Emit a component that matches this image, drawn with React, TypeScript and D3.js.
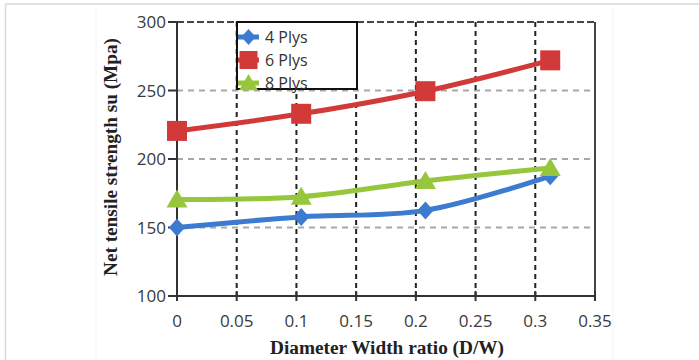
import React from 'react';
import * as d3 from 'd3';

// chart values
const ratios = [0, 0.104, 0.208, 0.3125];
const plys4 = [150, 157.7, 162.5, 187.5];
const plys6 = [220.5, 233, 249.5, 272];
const plys8 = [170.5, 172.5, 184, 193.5];
const seriesNames = ['4 Plys', '6 Plys', '8 Plys'];
const xTicks = [0, 0.05, 0.1, 0.15, 0.2, 0.25, 0.3, 0.35];
const yTicks = [100, 150, 200, 250, 300];

const W = 699;
const H = 360;
const colors = ['#3d7bd0', '#d23a3a', '#96c63c'];

const x = d3.scaleLinear().domain([0, 0.35]).range([177, 595]);
const y = d3.scaleLinear().domain([100, 300]).range([296, 22]);

const line = d3
  .line<[number, number]>()
  .x(d => x(d[0]))
  .y(d => y(d[1]))
  .curve(d3.curveCatmullRom.alpha(0.5));

// marker shapes, centred on cx,cy
const marker = (i: number, cx: number, cy: number, s: number) => {
  if (i === 0) {
    const h = s * 0.5;
    return <path d={`M${cx},${cy - h}L${cx + h * 0.9},${cy}L${cx},${cy + h}L${cx - h * 0.9},${cy}Z`} fill={colors[0]} />;
  }
  if (i === 1) {
    return <rect x={cx - s / 2} y={cy - s / 2} width={s} height={s} fill={colors[1]} />;
  }
  const h = s * 0.5;
  return <path d={`M${cx},${cy - h}L${cx + h * 1.05},${cy + h * 0.8}L${cx - h * 1.05},${cy + h * 0.8}Z`} fill={colors[2]} />;
};

const App = () => {
  const all = [plys4, plys6, plys8];
  const sizes = [18, 20, 20];
  const tickFont = "'Open Sans', sans-serif";
  return (
    <svg width={W} height={H} style={{ position: 'absolute', left: 0, top: 0, background: '#fff' }}>
      {/* page frame */}
      <line x1={5.5} x2={W} y1={4} y2={4} stroke="#d9d9d9" strokeWidth={1.5} />
      <line x1={5.5} x2={5.5} y1={4} y2={H} stroke="#d9d9d9" strokeWidth={1.5} />
      <line x1={96} x2={96} y1={8} y2={H} stroke="#f3f3f3" />
      <line x1={613} x2={613} y1={8} y2={H} stroke="#f3f3f3" />

      {/* horizontal grid */}
      {yTicks.slice(1, -1).map(t => (
        <line key={'h' + t} x1={x(0)} x2={x(0.35)} y1={y(t)} y2={y(t)} stroke="#a8a8a8" strokeWidth={2} strokeDasharray="6,5" />
      ))}
      {/* vertical grid */}
      {xTicks.slice(1, -1).map(t => (
        <line key={'v' + t} x1={x(t)} x2={x(t)} y1={y(300)} y2={y(100)} stroke="#222" strokeWidth={2} strokeDasharray="5,4" />
      ))}

      {/* frame of the plot */}
      <line x1={x(0)} x2={x(0.35)} y1={y(300)} y2={y(300)} stroke="#444" strokeWidth={2} strokeDasharray="7,3" />
      <line x1={x(0.35)} x2={x(0.35)} y1={y(300)} y2={y(100)} stroke="#444" strokeWidth={2} />
      <line x1={x(0)} x2={x(0)} y1={y(300)} y2={y(100)} stroke="#333" strokeWidth={2} />
      <line x1={x(0)} x2={x(0.35)} y1={y(100)} y2={y(100)} stroke="#333" strokeWidth={2} />

      {/* y ticks */}
      {yTicks.map(t => (
        <g key={'yt' + t}>
          <line x1={x(0) - 9} x2={x(0)} y1={y(t)} y2={y(t)} stroke="#333" strokeWidth={2} />
          <text x={x(0) - 11} y={y(t)} dy="0.36em" textAnchor="end" fontSize={17} fontFamily={tickFont} fill="#3a3a3a">
            {t}
          </text>
        </g>
      ))}
      {/* x ticks */}
      {xTicks.map(t => (
        <g key={'xt' + t}>
          <line x1={x(t)} x2={x(t)} y1={y(100) - 5} y2={y(100) + 5} stroke="#333" strokeWidth={2} />
          <text x={x(t)} y={327} textAnchor="middle" fontSize={17} fontFamily={tickFont} fill="#3a3a3a">
            {t}
          </text>
        </g>
      ))}

      {/* series */}
      {all.map((vals, i) => {
        const pts = ratios.map((r, j) => [r, vals[j]] as [number, number]);
        return (
          <g key={'s' + i}>
            <path d={line(pts) || ''} fill="none" stroke={colors[i]} strokeWidth={5} />
            {pts.map((p, j) => (
              <g key={j}>{marker(i, x(p[0]), y(p[1]), sizes[i])}</g>
            ))}
          </g>
        );
      })}

      {/* legend */}
      <rect x={237} y={22} width={120} height={67} fill="#fff" stroke="#111" strokeWidth={2} />
      {seriesNames.map((n, i) => {
        const cy = 37 + i * 23;
        return (
          <g key={'l' + n}>
            <line x1={238} x2={259} y1={cy} y2={cy} stroke={colors[i]} strokeWidth={5} />
            {marker(i, 248.5, cy, i === 0 ? 16 : 18)}
            <text x={265} y={cy} dy="0.36em" fontSize={16} fontFamily={tickFont} fill="#333">
              {n}
            </text>
          </g>
        );
      })}

      {/* axis titles */}
      <text
        transform="translate(117,157) rotate(-90)"
        textAnchor="middle"
        fontSize={18}
        fontWeight="bold"
        fontFamily="'Liberation Serif', 'Times New Roman', serif"
        fill="#222"
        textLength={238}
        lengthAdjust="spacingAndGlyphs"
      >
        Net tensile strength su (Mpa)
      </text>
      <text
        x={387}
        y={354}
        textAnchor="middle"
        fontSize={18}
        fontWeight="bold"
        fontFamily="'Liberation Serif', 'Times New Roman', serif"
        fill="#222"
        textLength={234}
        lengthAdjust="spacingAndGlyphs"
      >
        Diameter Width ratio (D/W)
      </text>
    </svg>
  );
};

export default App;
